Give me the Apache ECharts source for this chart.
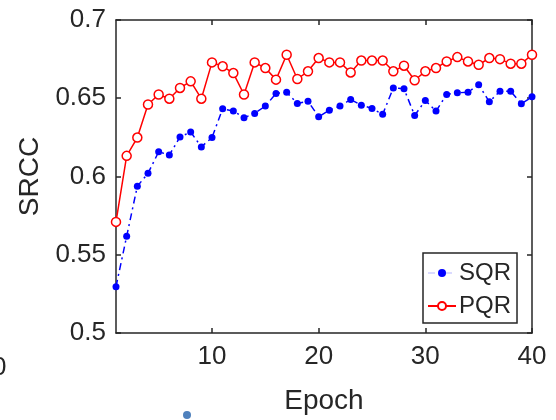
<!DOCTYPE html>
<html>
<head>
<meta charset="utf-8">
<script src="https://cdn.jsdelivr.net/npm/echarts@6/dist/echarts.min.js"></script>
<style>html,body{margin:0;padding:0;background:#fff;}#c{width:556px;height:420px;}</style>
</head>
<body>
<div id="c"></div>
<script>
const epochs = Array.from({length: 40}, (_, i) => i + 1);
const sqr = [0.5296,0.5618,0.5938,0.6020,0.6158,0.6137,0.6253,0.6284,0.6189,0.6249,
             0.6433,0.6418,0.6376,0.6403,0.6450,0.6530,0.6538,0.6467,0.6481,0.6382,
             0.6424,0.6450,0.6492,0.6456,0.6435,0.6397,0.6566,0.6560,0.6390,0.6486,
             0.6418,0.6524,0.6535,0.6538,0.6587,0.6477,0.6545,0.6545,0.6465,0.6509];
const pqr = [0.5710,0.6132,0.6249,0.6460,0.6524,0.6497,0.6566,0.6608,0.6497,0.6729,
             0.6704,0.6661,0.6524,0.6729,0.6693,0.6619,0.6778,0.6623,0.6672,0.6757,
             0.6729,0.6729,0.6665,0.6741,0.6741,0.6741,0.6672,0.6708,0.6615,0.6672,
             0.6693,0.6735,0.6763,0.6735,0.6714,0.6757,0.6750,0.6721,0.6721,0.6778];
const xTicks = [10, 20, 30, 40];
const yTicks = [0.5, 0.55, 0.6, 0.65, 0.7];

const font = 'Liberation Sans, Arial, sans-serif';
const axisColor = '#262626';
const chart = echarts.init(document.getElementById('c'), null, {renderer: 'canvas'});
const baseX = {
  type: 'value', min: 1, max: 40,
  axisLine: {show: true, onZero: false, lineStyle: {color: axisColor, width: 1.5}},
  axisTick: {show: true, inside: true, length: 5, customValues: xTicks, lineStyle: {color: axisColor, width: 1.5}},
  splitLine: {show: false}
};
const baseY = {
  type: 'value', min: 0.5, max: 0.7, interval: 0.05,
  axisLine: {show: true, onZero: false, lineStyle: {color: axisColor, width: 1.5}},
  axisTick: {show: true, inside: true, length: 5, lineStyle: {color: axisColor, width: 1.5}},
  splitLine: {show: false}
};
chart.setOption({
  backgroundColor: '#fff',
  animation: false,
  grid: {left: 116, right: 24, top: 20, bottom: 85},
  xAxis: [
    Object.assign({}, baseX, {
      position: 'bottom',
      name: 'Epoch', nameLocation: 'middle', nameGap: 54,
      nameTextStyle: {fontFamily: font, fontSize: 28, color: axisColor},
      axisLabel: {show: true, customValues: xTicks, margin: 11, fontFamily: font, fontSize: 26, color: axisColor}
    }),
    Object.assign({}, baseX, {position: 'top', axisLabel: {show: false}})
  ],
  yAxis: [
    Object.assign({}, baseY, {
      position: 'left',
      name: 'SRCC', nameLocation: 'middle', nameGap: 72,
      nameTextStyle: {fontFamily: font, fontSize: 28, color: axisColor},
      axisLabel: {show: true, margin: 10, fontFamily: font, fontSize: 26, color: axisColor,
        formatter: v => String(+v.toFixed(2))}
    }),
    Object.assign({}, baseY, {position: 'right', axisLabel: {show: false}})
  ],
  legend: {
    left: 423, top: 253, orient: 'vertical',
    backgroundColor: '#fff',
    borderColor: axisColor, borderWidth: 1.5, borderRadius: 0,
    padding: [8, 6, 5, 4], itemGap: 9, itemWidth: 28, itemHeight: 10,
    textStyle: {fontFamily: font, fontSize: 24, color: axisColor, lineHeight: 24, padding: [0, 0, 0, -2]},
    data: [
      {name: 'SQR', lineStyle: {color: 'rgba(90,90,255,0.45)', width: 1.2}},
      {name: 'PQR'}
    ]
  },
  series: [
    {
      name: 'SQR', type: 'line',
      data: epochs.map((e, i) => [e, sqr[i]]),
      symbol: 'circle', symbolSize: 7,
      itemStyle: {color: '#0000ff'},
      lineStyle: {color: '#0000ff', width: 1.5, type: [7, 4, 2, 4]},
      z: 3
    },
    {
      name: 'PQR', type: 'line',
      data: epochs.map((e, i) => [e, pqr[i]]),
      symbol: 'circle', symbolSize: 9,
      itemStyle: {color: '#fff', borderColor: '#ff0000', borderWidth: 1.5},
      lineStyle: {color: '#ff0000', width: 1.5},
      z: 4
    }
  ],
  graphic: [
    {type: 'text', left: -8, top: 355, style: {text: '0', fontFamily: font, fontSize: 26, fill: axisColor}},
    {type: 'circle', shape: {cx: 187, cy: 415, r: 4}, style: {fill: '#4f81bd'}}
  ]
});
</script>
</body>
</html>
